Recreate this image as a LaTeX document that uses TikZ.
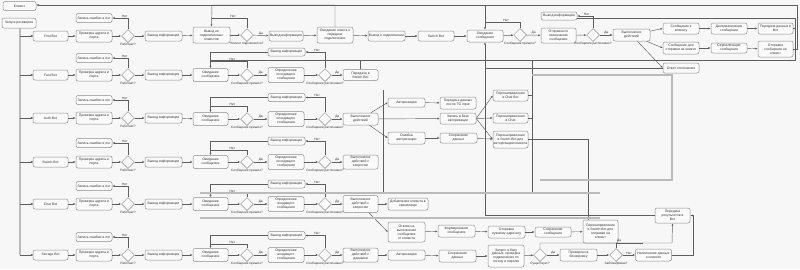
\documentclass[tikz,border=0pt]{standalone}
\usepackage{fontspec}
\setmainfont{Liberation Sans}
\usetikzlibrary{shapes.geometric,arrows.meta}
\definecolor{bgc}{HTML}{F7F7F7}
\definecolor{bordc}{HTML}{8C8C8C}
\definecolor{boxc}{HTML}{FAFAFA}
\definecolor{linec}{HTML}{5E5E5E}
\definecolor{txtc}{HTML}{333333}
\definecolor{barc}{HTML}{BBBBBB}
\newcommand\myfs{\fontsize{3.4}{3.9}\selectfont}
\newcommand\mylf{\fontsize{3.2}{3.6}\selectfont}
\newcommand\bxx[6]{\node[bx,minimum width=#4pt,minimum height=#5pt] (#1) at (#2,#3) {#6};}
\newcommand\dmm[4]{\node[dm] (#1) at (#2,#3) {}; \node[lb] at (#2,#3+8.5) {#4};}
\begin{document}
\begin{tikzpicture}[x=1pt,y=-1pt,
 bx/.style={draw=bordc, fill=boxc, rounded corners=2pt, line width=0.5pt, align=center, inner sep=0.3pt, font=\myfs, text=txtc},
 dm/.style={diamond, draw=bordc, fill=boxc, minimum width=13pt, minimum height=13pt, inner sep=0pt, line width=0.5pt},
 ar/.style={draw=linec, line width=0.45pt, -{Latex[length=2.3pt,width=2pt]}},
 ln/.style={draw=linec, line width=0.45pt},
 oc/.style={draw=linec, line width=0.45pt, -{Circle[open,length=2pt,width=2pt]}},
 lb/.style={font=\mylf, text=txtc, inner sep=0.4pt},
 bar/.style={draw=barc, line width=1.2pt}]
\fill[bgc] (0,0) rectangle (800,269);
\useasboundingbox (0,0) rectangle (800,269);

% ---------- left column
\bxx{K}{19.5}{6}{33}{9}{Клиент}
\bxx{Z}{19}{23}{34}{10}{Запуск ресиверов}
\draw[bar] (Z.south -| 20,0) -- (20,255);

\foreach \i/\r/\t/\nm in {1/36/18/First Bot,2/75/58/Fast Bot,3/118/100/Auth Bot,4/162/143/Switch Bot,5/204/186/Chat Bot,6/255/237/Storage Bot}{
  \bxx{bot\i}{50.5}{\r}{35}{10}{\nm}
  \bxx{chk\i}{94}{\r}{36}{12}{Проверка адреса и\\порта}
  \bxx{err\i}{94}{\t}{36}{9}{Запись ошибки в лог}
  \dmm{da\i}{128}{\r}{Работает?}
  \bxx{inf\i}{163.5}{\r}{37}{10}{Вывод информации}
  \coordinate (br\i) at (20,\r);
  \draw[oc] (br\i) -- (bot\i);
  \draw[ar] (bot\i) -- (chk\i);
  \draw[ar] (chk\i) -- (da\i);
  \draw[ar] (da\i) -- (inf\i);
  \draw[ar] (da\i.north) |- node[lb,above,pos=0.6]{Нет} (err\i);
}

% ---------- row 1 (client connection + Switch Bot pipeline)
\bxx{w1}{211.5}{35}{37}{16}{Вывод не\\подключенных\\клиентов}
\dmm{db1}{247}{35}{Клиент подключился?}
\bxx{ia1}{286}{36}{34}{10}{Вывод информации}
\bxx{ow1}{335}{35}{36}{16}{Ожидание ответа о\\передаче\\подключения}
\bxx{vp1}{386.5}{36}{37}{10}{Вывод о подключении}
\bxx{sb1}{436}{36}{36}{10}{Switch Bot}
\bxx{ws1}{485}{36}{36}{12}{Ожидание\\сообщения}
\dmm{dc1}{520}{35}{Сообщение пришло?}
\bxx{on1}{558.5}{35.5}{35}{15}{Отправка по\\назначению\\сообщения}
\dmm{dd1}{593}{35}{Сообщение распознано?}
\bxx{vi1}{559}{16}{36}{8}{Вывод информации}
\bxx{vd1}{631.5}{35}{37}{12}{Выполнение\\действий}
\bxx{s1}{681}{28.5}{36}{11}{Сообщение к\\клиенту}
\bxx{s2}{681}{48}{36}{12}{Сообщение для\\отправки на клиент}
\bxx{s3}{681}{68}{36}{10}{Ответ отклонения}
\bxx{s4}{729}{28.5}{36}{11}{Десериализация\\сообщения}
\bxx{s5}{729}{48}{36}{10}{Сериализация\\сообщения}
\bxx{s6}{775.5}{28.5}{35}{11}{Передача данных в\\Bot}
\bxx{s7}{775.5}{49}{35}{16}{Отправка\\сообщения на\\клиент}

\draw[ar] (inf1) -- (w1);
\draw[ar] (w1) -- (db1);
\draw[ar] (db1) -- node[lb,above]{Да} (ia1);
\draw[ln] (db1.north) |- node[lb,above,pos=0.7]{Нет} (212,18);
\draw[ar] (ow1.north) |- (212,5) -- (w1.north);
\draw[ar] (ia1) -- (ow1);
\draw[ar] (ow1) -- (vp1);
\draw[ar] (vp1) -- (sb1);
\draw[ar] (sb1) -- (ws1);
\draw[ar] (ws1) -- (dc1);
\draw[ln] (dc1.north) |- node[lb,above,pos=0.7]{Нет} (485,22);
\draw[ar] (485,5) -- (ws1.north);
\draw[ar] (dc1) -- node[lb,above]{Да} (on1);
\draw[ar] (on1) -- (dd1);
\draw[ar] (dd1.north) |- node[lb,above,pos=0.7]{Нет} (vi1);
\draw[ar] (dd1) -- node[lb,above]{Да} (vd1);
\draw[ar] (vd1) -- (s1.west);
\draw[ar] (vd1) -- (s2.west);
\draw[ar] (vd1) -- (s3.west);
\draw[ar] (s1) -- (s4);
\draw[ar] (s4) -- (s6);
\draw[ar] (s2) -- (s5);
\draw[ar] (s5) -- (s7);
\draw[ar] (s7.east) -| (797,5) -- (K.east |- 0,5);
\draw[ln] (vi1.east |- 0,18) -- (795,18) |- (210,60);
\draw[ln] (s6.east) -- (795,28.5);
\draw[ln] (s3.west) -- (485,68);

% ---------- rows 2-6 common part
\foreach \i/\r/\v/\wt/\ot/\at/\ah in {
  2/75/52/Ожидание\\сообщения/Определение\\исходящего\\сообщения/Передача в\\Switch Bot/11,
  3/119/97.5/Ожидание\\сообщения/Определение\\исходящего\\сообщения/Выполнение\\действий/12,
  4/162/141/Ожидание\\сообщения/Определение\\исходящего\\сообщения/Выполнение\\действий с\\запросом/14,
  5/204/184/Ожидание\\сообщения/Определение\\входящего\\сообщения/Выполнение\\действий с\\запросом/17,
  6/255/235.5/Ожидание\\сообщения/Определение\\входящего\\сообщения/Выполнение\\действий с\\данными/14}{
  \bxx{w\i}{210.5}{\r}{35}{13}{\wt}
  \dmm{dq\i}{247}{\r}{Сообщение пришло?}
  \bxx{om\i}{286}{\r}{36}{15}{\ot}
  \dmm{dr\i}{325}{\r}{Сообщение распознано?}
  \bxx{vx\i}{286.5}{\v}{37}{8}{Вывод информации}
  \bxx{ac\i}{360.5}{\r}{35}{\ah}{\at}
  \draw[ar] (inf\i) -- (w\i);
  \draw[ar] (w\i) -- (dq\i);
  \draw[ar] (dq\i) -- node[lb,above]{Да} (om\i);
  \draw[ar] (om\i) -- (dr\i);
  \draw[ar] (dr\i) -- node[lb,above]{Да} (ac\i);
  \draw[ar] (dr\i.north) |- node[lb,above,pos=0.7]{Нет} (vx\i);
  \draw[ar] (vx\i.west) -| (w\i.north);
  \draw[ln] (dq\i.north) |- node[lb,above,pos=0.7]{Нет} (w\i.north |- 0,\v+9);
}

% ---------- row 2 extra
\draw[ln] (ac2.north) -- (ac2.north |- 0,60);

% ---------- row 3 extra
\bxx{au3}{406.5}{102.5}{37}{9}{Авторизация}
\bxx{pd3}{458}{103}{36}{12}{Передача данных\\после TG input}
\bxx{zb3}{458}{118.5}{36}{11}{Запись в базе\\авторизации}
\bxx{oa3}{406.5}{138}{37}{12}{Ошибка\\авторизации}
\bxx{sd3}{458.5}{138}{37}{10}{Сохранение\\данных}
\bxx{r1}{510.5}{95.5}{35}{11}{Перенаправление\\в Chat Bot}
\bxx{r2}{510.5}{118}{35}{10}{Перенаправление\\в Chat}
\bxx{r3}{510.5}{139.5}{35}{17}{Перенаправление\\в Switch Bot для\\авторизации клиента}
\draw[ar] (ac3) -- (au3.west);
\draw[ar] (ac3) -- (zb3);
\draw[ar] (ac3) -- (oa3.west);
\draw[ar] (au3) -- (pd3);
\draw[ar] (oa3) -- (sd3);
\draw[ar] (zb3.east) -- (r1.west);
\draw[ar] (zb3.east) -- (r2.west);
\draw[ar] (zb3.east) -- (r3.west);
\draw[ar] (sd3) -- (r3);
\draw[ln] (r1.east) -- (532,95.5);
\draw[ln] (r2.east) -- (532,118);
\draw[ln] (532,60) -- (532,193) -- (428,193);
\draw[ln] (r3.east) -- (588,139.5) -- (588,220);
\draw[ln] (383,90) -- (383,193);

% ---------- row 5 extra
\bxx{dk5}{408}{204}{40}{12}{Добавление клиента в\\хранилище}
\bxx{ok5}{406.5}{232}{37}{20}{Отклик на\\выполнение\\сообщения\\от клиента}
\bxx{fs5}{456.5}{231}{37}{12}{Формирование\\сообщения}
\bxx{ns5}{506.5}{232}{37}{12}{Отправка\\нужному адресату}
\bxx{ss5}{553}{232}{36}{10}{Сохранение\\сообщения}
\bxx{pr5}{600.5}{231.5}{35}{23}{Перенаправление\\в Switch Bot для\\отправки на\\клиент}
\draw[ar] (ac5) -- (dk5);
\draw[ar] (ac5) -- (ok5.west);
\draw[ar] (ok5) -- (fs5);
\draw[ar] (fs5) -- (ns5);
\draw[ar] (ns5) -- (ss5);
\draw[ar] (ss5) -- (pr5);

% ---------- row 6 extra
\bxx{au6}{406.5}{255}{37}{10}{Авторизация}
\bxx{sd6}{457.5}{256}{37}{12}{Сохранение\\данных}
\bxx{zq6}{506}{256}{36}{22}{Запрос в базу\\данных, проверка\\подключения по\\логину и паролю}
\dmm{de6}{540}{255}{Существует?}
\bxx{pb6}{578.5}{255}{37}{12}{Проверка на\\блокировку}
\dmm{df6}{616}{255}{Заблокирован?}
\bxx{nd6}{653.5}{255}{36}{12}{Наполнение данных\\о клиенте}
\bxx{pr6}{672.5}{215.5}{35}{15}{Передача\\результатов в\\Bot}
\draw[ar] (ac6) -- (au6);
\draw[ar] (au6) -- (sd6);
\draw[ar] (sd6) -- (zq6);
\draw[ar] (zq6) -- (de6);
\draw[ar] (de6) -- node[lb,above]{Да} (pb6);
\draw[ar] (pb6) -- (df6);
\draw[ar] (df6) -- node[lb,above]{Нет} (nd6);
\draw[ar] (nd6.east) -| (693,215.5) -- (pr6.east);
\draw[ar] (de6.north) |- node[lb,above,pos=0.8]{Да} (672,243) -- (pr6.south);
\draw[ln] (df6.north) |- (643,243);
\draw[ar] (pr6.west) -| (ws1.south);

% ---------- grouping bars
\draw[bar] (200,193) -- (600,193);
\draw[bar] (200,218) -- (600,218);
\draw[bar] (540,180) -- (672,180) -- (672,75) -- (532,75);
\end{tikzpicture}
\end{document}
